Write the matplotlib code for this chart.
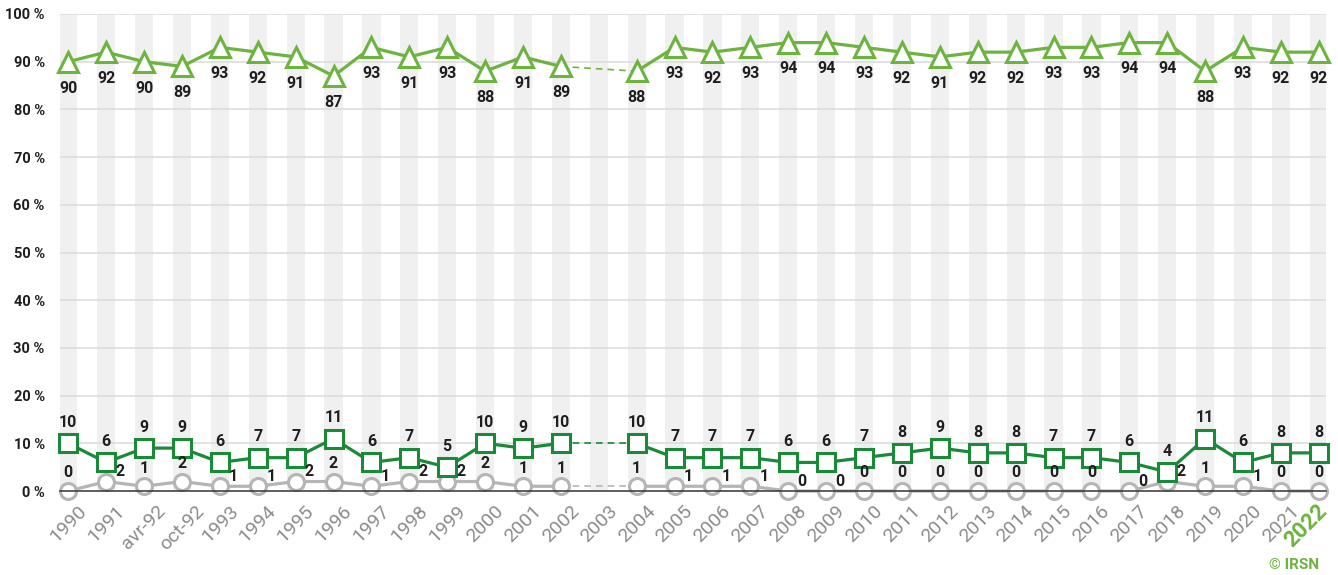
import numpy as np
import matplotlib.pyplot as plt

plt.rcParams['font.family'] = ['Roboto', 'DejaVu Sans']

# categories (2003 has no survey)
years = ['1990', '1991', 'avr-92', 'oct-92', '1993', '1994', '1995', '1996', '1997', '1998',
         '1999', '2000', '2001', '2002', '2003', '2004', '2005', '2006', '2007', '2008',
         '2009', '2010', '2011', '2012', '2013', '2014', '2015', '2016', '2017', '2018',
         '2019', '2020', '2021', '2022']
nan = np.nan
high = [90, 92, 90, 89, 93, 92, 91, 87, 93, 91, 93, 88, 91, 89, nan, 88, 93, 92, 93, 94,
        94, 93, 92, 91, 92, 92, 93, 93, 94, 94, 88, 93, 92, 92]
mid = [10, 6, 9, 9, 6, 7, 7, 11, 6, 7, 5, 10, 9, 10, nan, 10, 7, 7, 7, 6,
       6, 7, 8, 9, 8, 8, 7, 7, 6, 4, 11, 6, 8, 8]
low = [0, 2, 1, 2, 1, 1, 2, 2, 1, 2, 2, 2, 1, 1, nan, 1, 1, 1, 1, 0,
       0, 0, 0, 0, 0, 0, 0, 0, 0, 2, 1, 1, 0, 0]
# where the gray labels sit: u = above, r = right
low_side = 'uruurrrurrruuu-' + 'urrrrr' + 'uuuuuuu' + 'rr' + 'uruu'

c_high = '#6db33f'
c_mid = '#1a8a38'
c_low = '#b5b5b5'
c_txt = '#1e1e1e'

x = np.arange(len(years))
gap = [13, 15]

fig = plt.figure(figsize=(13.38, 5.75), dpi=100)
ax = fig.add_axes([0.0448, 0.146, 0.9465, 0.8297])

# narrow grey band behind every category
for i in x:
    ax.axvspan(i - 0.24, i + 0.24, color='#f0f0f0', zorder=0, lw=0)

for yv in range(10, 101, 10):
    ax.axhline(yv, color='#dddddd', lw=1.2, zorder=1)

def draw(vals, color, marker, ms):
    v = np.array(vals, dtype=float)
    ax.plot(x, v, color=color, lw=2.3, marker=marker, ms=ms, mfc='white',
            mec=color, mew=2.2, zorder=3, clip_on=False)
    ax.plot(gap, v[gap], color=color, lw=1.2, ls=(0, (4, 3)), zorder=2)

draw(low, c_low, 'o', 11.5)
draw(mid, c_mid, 's', 12.5)
draw(high, c_high, '^', 15)

ax.axhline(0, color='#333333', lw=1.1, zorder=4, clip_on=False)

lab = dict(fontsize=11.5, color=c_txt, fontweight='bold', textcoords='offset points',
           ha='center', va='center', annotation_clip=False)
for i in x:
    if np.isnan(high[i]):
        continue
    ax.annotate(str(high[i]), (i, high[i]), xytext=(0, -19), **lab)
    ax.annotate(str(mid[i]), (i, mid[i]), xytext=(0, 15), **lab)
    if low_side[i] == 'r':
        ax.annotate(str(low[i]), (i, low[i]), xytext=(10, 7), **lab)
    else:
        ax.annotate(str(low[i]), (i, low[i]), xytext=(0, 13), **lab)

ax.set_xlim(-0.22, len(years) - 1 + 0.2)
ax.set_ylim(0, 100)
ax.set_yticks(range(0, 101, 10))
ax.set_yticklabels(['%d %%' % v for v in range(0, 101, 10)], fontsize=10.5,
                   color=c_txt, fontweight='bold')
ax.set_xticks(x)
ax.set_xticklabels(years[:-1] + [''], rotation=45, ha='center', fontsize=14, color='#8c8c8c')
# last year highlighted, pulled a little left so it stays inside the figure
ax.annotate(years[-1], (x[-1], 0), xycoords=('data', 'axes fraction'),
            xytext=(-9, -25), textcoords='offset points', rotation=45,
            ha='center', va='center', fontsize=16, fontweight='bold', color=c_high)
ax.tick_params(axis='both', length=0)
ax.tick_params(axis='x', pad=8)
ax.tick_params(axis='y', pad=11)
for s in ax.spines.values():
    s.set_visible(False)

fig.text(0.986, 0.017, '© IRSN', color=c_high, fontsize=11, fontweight='bold',
         ha='right', va='center')

fig.savefig('out.png', dpi=100)
